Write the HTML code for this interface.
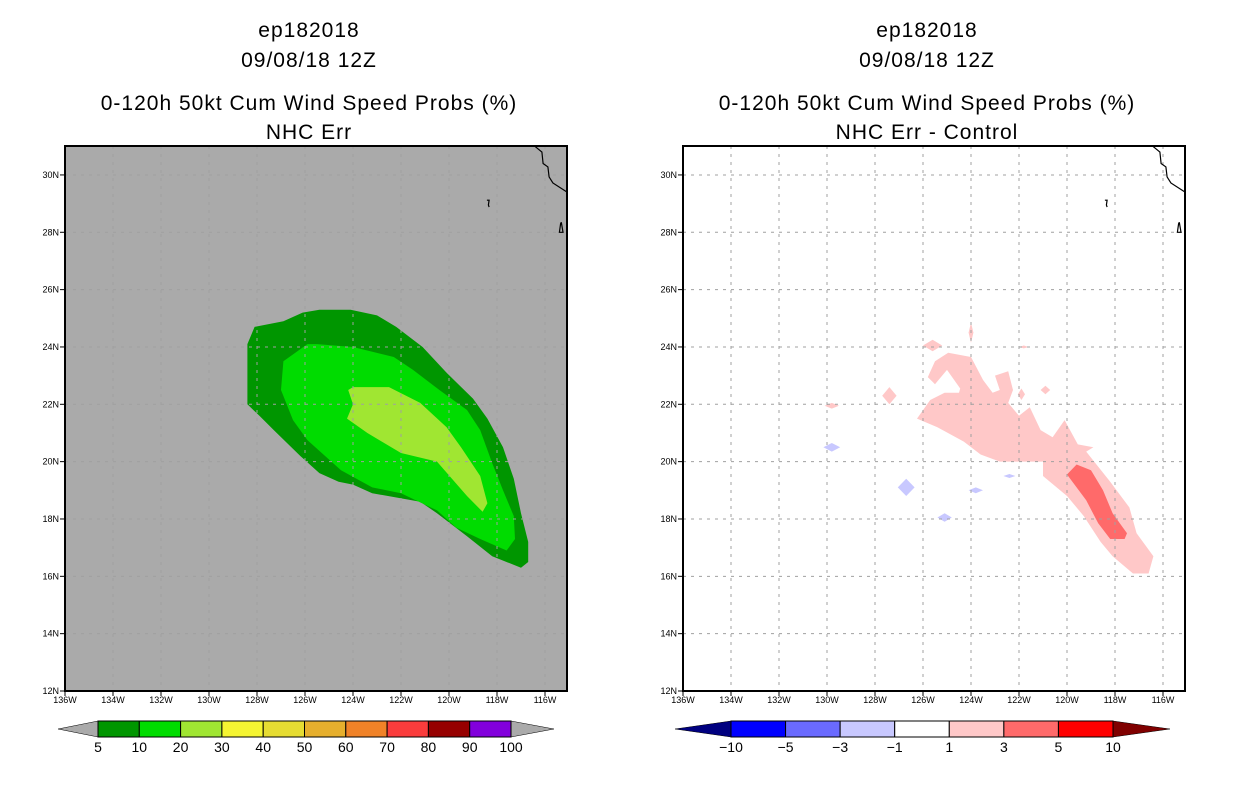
<!DOCTYPE html>
<html><head><meta charset="utf-8"><style>
body{margin:0;background:#fff;}
svg text{font-family:"Liberation Sans",sans-serif;}
</style></head><body>
<svg id="s" width="1236" height="800" viewBox="0 0 1236 800" xmlns="http://www.w3.org/2000/svg"></svg>
<script>
const lonTicks=[136,134,132,130,128,126,124,122,120,118,116];
const latTicks=[12,14,16,18,20,22,24,26,28,30];
const prob5=[[128.1,24.7],[126.9,24.9],[126.1,25.2],[125.4,25.3],[124.1,25.3],[123.0,25.1],[122.2,24.7],[121.1,24.0],[120.1,23.1],[119.0,22.2],[118.4,21.5],[117.75,20.5],[117.3,19.4],[117.0,18.2],[116.7,17.2],[116.7,16.5],[117.0,16.3],[118.2,16.7],[119.25,17.4],[120.5,18.2],[121.2,18.6],[123.2,18.9],[124.0,19.2],[124.6,19.3],[125.4,19.6],[126.2,20.2],[127.3,21.1],[127.9,21.6],[128.4,22.0],[128.4,23.3],[128.4,24.1]];
const prob10=[[126.9,23.5],[125.9,24.1],[125.5,24.1],[124.0,24.0],[122.3,23.65],[121.5,23.2],[120.4,22.5],[119.25,21.8],[118.7,21.1],[118.2,19.95],[117.75,19.0],[117.3,18.1],[117.25,17.3],[117.6,16.9],[118.7,17.3],[119.7,17.7],[120.5,18.3],[122.0,18.9],[123.2,19.1],[124.5,19.7],[125.9,20.75],[126.5,21.45],[127.0,22.5]];
const prob20=[[124.2,22.5],[124.0,22.6],[122.5,22.6],[121.2,22.05],[120.1,21.2],[119.5,20.5],[118.7,19.5],[118.4,18.55],[118.6,18.25],[119.25,18.8],[120.5,20.0],[122.0,20.3],[123.4,21.0],[124.25,21.5],[124.0,22.0]];
const diff1=[[126.25,21.5],[125.7,22.15],[125.1,22.4],[124.5,22.4],[124.45,22.55],[125.0,23.2],[125.5,22.7],[125.8,22.95],[125.5,23.5],[124.95,23.8],[124.0,23.65],[123.5,22.85],[123.1,22.4],[122.8,22.5],[123.0,23.0],[122.45,23.15],[122.25,22.5],[122.45,22.05],[122.0,21.6],[121.55,21.9],[121.1,21.1],[120.6,20.85],[120.1,21.45],[119.55,20.6],[118.9,20.5],[119.2,20.35],[118.2,19.3],[117.4,18.4],[117.1,17.5],[116.4,16.7],[116.6,16.1],[117.25,16.1],[118.1,16.7],[118.6,17.2],[119.3,18.1],[120.0,18.8],[121.0,19.5],[121.0,20.0],[122.8,20.0],[123.6,20.25],[124.3,20.7],[125.4,21.2]];
const diff3=[[120.0,19.55],[119.6,19.9],[119.0,19.7],[118.5,19.0],[118.1,18.2],[117.5,17.5],[117.6,17.3],[118.2,17.3],[118.7,17.85],[119.2,18.65]];
const pinkBlobs=[[125.6,24.05,0.4,0.2],[124.0,24.5,0.1,0.35],[127.4,22.3,0.3,0.3],[129.8,21.95,0.3,0.1],[121.9,22.35,0.15,0.2],[120.9,22.5,0.2,0.15],[121.8,24.0,0.2,0.05]];
const blueBlobs=[[129.8,20.5,0.35,0.15],[126.7,19.1,0.35,0.3],[125.1,18.05,0.3,0.15],[123.8,19.0,0.3,0.1],[122.4,19.5,0.25,0.07]];
const coast=[[116.42,31.0],[116.13,30.8],[116.08,30.4],[115.88,30.28],[115.83,29.93],[115.67,29.72],[115.08,29.4]];
const island1=[[118.42,29.12],[118.33,29.12],[118.36,28.95],[118.33,28.88]];
const island2=[[115.32,28.35],[115.25,28.0],[115.4,28.0],[115.35,28.3],[115.32,28.35]];
const leftLevels=["5","10","20","30","40","50","60","70","80","90","100"];
const leftColors=["#009600","#00dc00","#a0e632","#f5f532","#e6dc32","#e6af2d","#f08228","#fa3c3c","#960000","#8200dc"];
const rightLevels=["−10","−5","−3","−1","1","3","5","10"];
const rightColors=["#0000ff","#6a6aff","#c8c8ff","#ffffff","#ffc8c8","#ff6a6a","#ff0000"];
const svg=document.getElementById('s');const NS="http://www.w3.org/2000/svg";
function mk(t,a,p){const e=document.createElementNS(NS,t);for(const k in a)e.setAttribute(k,a[k]);(p||svg).appendChild(e);return e;}
const X0=[65,683],Y0=691,PW=502,PH=545;
function xs(p,lon){return X0[p]+(136-lon)*24;}
function ys(lat){return Y0-(lat-12)*28.67;}
function pts(p,arr){return arr.map(d=>xs(p,d[0]).toFixed(1)+","+ys(d[1]).toFixed(1)).join(" ");}
function txt(x,y,s,sz,anchor,name,p){const t=mk('text',{x:x,y:y,'font-size':sz,'text-anchor':anchor||'middle',fill:'#000'},p);t.textContent=s;return t;}
const titles=[["ep182018","09/08/18 12Z","0-120h 50kt Cum Wind Speed Probs (%)","NHC Err"],["ep182018","09/08/18 12Z","0-120h 50kt Cum Wind Speed Probs (%)","NHC Err - Control"]];
for(let p=0;p<2;p++){
  const g=mk('g',{});
  const cx=X0[p]+244;
  [[30,0],[60,1],[103,2],[132,3]].forEach(([y,i])=>txt(cx,y+7,titles[p][i],21,'middle','title-line-'+(i+1),g).setAttribute('letter-spacing','1'));
  const bg=mk('rect',{x:X0[p],y:146,width:PW,height:PH,fill:p?'#fff':'#aaaaaa'},g);
  if(p===0){
    [[prob5,'#009600','contour-5'],[prob10,'#00dc00','contour-10'],[prob20,'#a0e632','contour-20']].forEach(([a,c,n])=>{const e=mk('polygon',{points:pts(0,a),fill:c},g);});
  }else{
    const e1=mk('polygon',{points:pts(1,diff1),fill:'#ffc8c8'},g);
    pinkBlobs.forEach(b=>{const e=mk('polygon',{points:pts(1,[[b[0]-b[2],b[1]],[b[0],b[1]+b[3]],[b[0]+b[2],b[1]],[b[0],b[1]-b[3]]]),fill:'#ffc8c8'},g);});
    blueBlobs.forEach(b=>{const e=mk('polygon',{points:pts(1,[[b[0]-b[2],b[1]],[b[0],b[1]+b[3]],[b[0]+b[2],b[1]],[b[0],b[1]-b[3]]]),fill:'#c8c8ff'},g);});
    const e3=mk('polygon',{points:pts(1,diff3),fill:'#ff6a6a'},g);
  }
  lonTicks.slice(1).forEach(l=>{const e=mk('line',{x1:xs(p,l),x2:xs(p,l),y1:146,y2:691,stroke:'#a0a0a0','stroke-dasharray':'3,5','stroke-width':1},g);});
  latTicks.slice(1).forEach(l=>{const e=mk('line',{x1:X0[p],x2:X0[p]+PW,y1:ys(l),y2:ys(l),stroke:'#a0a0a0','stroke-dasharray':'3,5','stroke-width':1},g);});
  [[coast,'coastline'],[island1,'island'],[island2,'island']].forEach(([a,n])=>{const e=mk('polyline',{points:pts(p,a),fill:'none',stroke:'#000','stroke-width':1.2},g);});
  const fr=mk('rect',{x:X0[p],y:146,width:PW,height:PH,fill:'none',stroke:'#000','stroke-width':2},g);
  lonTicks.forEach(l=>{mk('line',{x1:xs(p,l),x2:xs(p,l),y1:691,y2:696,stroke:'#000'},g);txt(xs(p,l),703,l+"W",9,'middle','x-tick-label',g);});
  latTicks.forEach(l=>{mk('line',{x1:X0[p]-5,x2:X0[p],y1:ys(l),y2:ys(l),stroke:'#000'},g);txt(X0[p]-6,ys(l)+3,l+"N",9,'end','y-tick-label',g);});
  const cb=mk('g',{},g);
  const cols=p?rightColors:leftColors,labs=p?rightLevels:leftLevels;
  const bx0=p?731:98,bx1=p?1113:511,tip0=p?675:58,tip1=p?1170:554,tc0=p?'#000080':'#aaaaaa',tc1=p?'#800000':'#aaaaaa';
  const w=(bx1-bx0)/cols.length;
  mk('polygon',{points:`${bx0},721 ${bx0},737 ${tip0},729`,fill:tc0,stroke:'#000','stroke-width':0.5},cb);
  mk('polygon',{points:`${bx1},721 ${bx1},737 ${tip1},729`,fill:tc1,stroke:'#000','stroke-width':0.5},cb);
  cols.forEach((c,i)=>{const r=mk('rect',{x:bx0+i*w,y:721,width:w,height:16,fill:c,stroke:'#000','stroke-width':1},cb);});
  labs.forEach((s,i)=>txt(bx0+i*w,752,s,14,'middle','colorbar-label',cb));
}
</script>
</body></html>
